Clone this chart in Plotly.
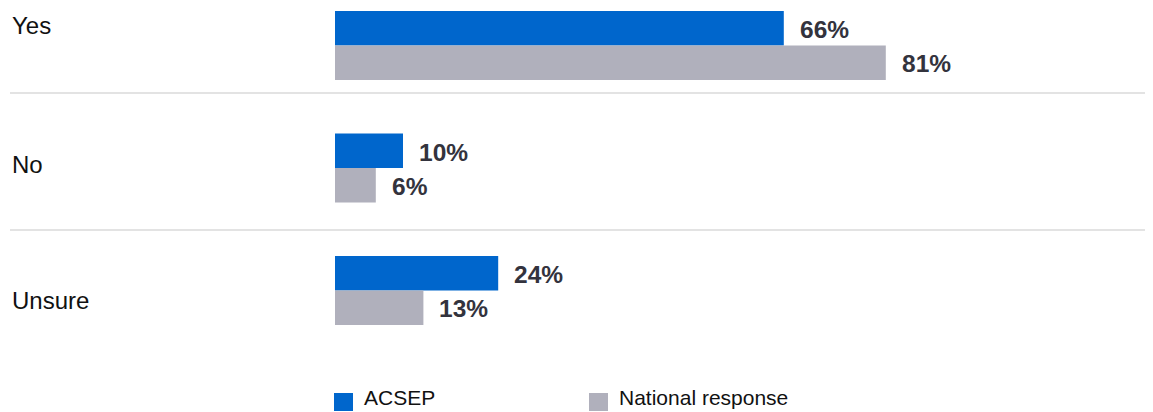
import plotly.graph_objects as go

categories = ["Yes", "No", "Unsure"]
series_names = ["ACSEP", "National response"]
acsep = [66, 10, 24]
national = [81, 6, 13]

colors = ["#0066CC", "#B0B0BC"]
# page body has an 8px margin, so the figure is drawn 8px in from the top-left
OFF = 8
W, H = 1153 - OFF, 412 - OFF

# x: bars start at pixel 335, 6.8 px per percent
x0_px, px_per = 335 - OFF, 6.8
x_range = [-x0_px / px_per, (W - x0_px) / px_per]
# y: first category centre at 45.5 px, 122.5 px apart
y_top, step = 45.5 - OFF, 122.5
n = len(categories)
y_range = [(n - 1) + (H - (y_top + step * (n - 1))) / step, -y_top / step]


def px_x(p):
    return (p - OFF) / W


def px_y(p):
    return 1 - (p - OFF) / H


fig = go.Figure()
for name, vals, col in zip(series_names, [acsep, national], colors):
    fig.add_trace(go.Bar(
        y=categories, x=vals, name=name, orientation="h",
        marker=dict(color=col, line=dict(width=0)),
        showlegend=False, hoverinfo="x+name",
    ))

annotations = []
# value labels
for shift, vals in zip([16, -18], [acsep, national]):
    for c, v in zip(categories, vals):
        annotations.append(dict(
            x=v, y=c, xref="x", yref="y", text=f"<b>{v}%</b>", showarrow=False,
            xanchor="left", yanchor="middle", xshift=14, yshift=shift,
            font=dict(family="Liberation Sans, Arial", size=24.5, color="#33333D"),
        ))

# category labels
label_shift = [20, 4, -10]
for c, s in zip(categories, label_shift):
    annotations.append(dict(
        x=px_x(10), y=c, xref="paper", yref="y", text=c, showarrow=False,
        xanchor="left", yanchor="middle", yshift=s,
        font=dict(family="Liberation Sans, Arial", size=24, color="#111111"),
    ))

shapes = []
# separators
for py in [93, 230]:
    shapes.append(dict(type="line", xref="paper", yref="paper",
                       x0=px_x(10), x1=1, y0=px_y(py), y1=px_y(py),
                       line=dict(color="#DADADA", width=1.5)))

# legend
for name, col, lx in zip(series_names, colors, [334, 589]):
    shapes.append(dict(type="rect", xref="paper", yref="paper",
                       x0=px_x(lx), x1=px_x(lx + 19), y0=px_y(411), y1=px_y(393),
                       fillcolor=col, line=dict(width=0)))
    annotations.append(dict(
        x=px_x(lx + 28), y=px_y(411), xref="paper", yref="paper", text=name,
        showarrow=False, xanchor="left", yanchor="bottom",
        font=dict(family="Liberation Sans, Arial", size=21, color="#111111"),
    ))

fig.update_layout(
    width=W, height=H, autosize=False,
    margin=dict(l=0, r=0, t=0, b=0),
    paper_bgcolor="white", plot_bgcolor="white",
    barmode="group", bargap=0.437, bargroupgap=0,
    xaxis=dict(range=x_range, visible=False, fixedrange=True),
    yaxis=dict(range=y_range, visible=False, categoryorder="array",
               categoryarray=categories, fixedrange=True),
    annotations=annotations, shapes=shapes,
)

fig.write_html("out.html")
